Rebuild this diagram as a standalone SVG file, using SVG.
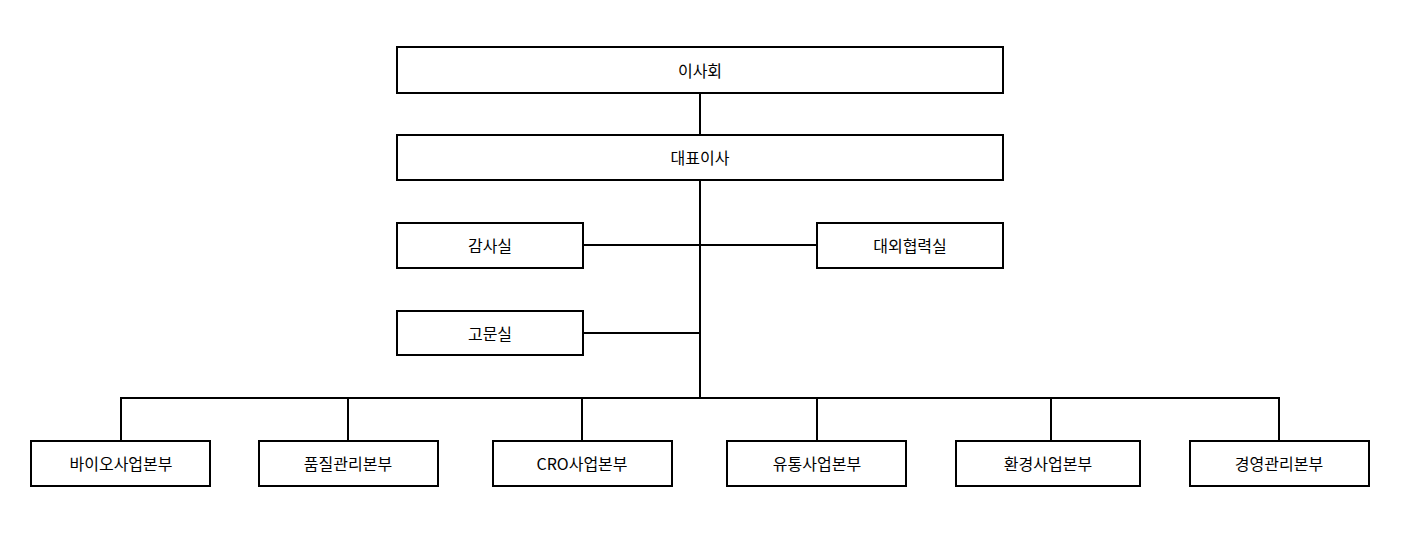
<svg xmlns="http://www.w3.org/2000/svg" width="1407" height="543" viewBox="0 0 1407 543">
<style>
rect{fill:#fff;stroke:#000;stroke-width:2}
line{stroke:#000;stroke-width:2}
text{font-family:"Noto Sans CJK KR","Noto Sans",sans-serif;font-size:16px;text-anchor:middle;dominant-baseline:central;fill:#000}
</style>
<rect width="1407" height="543" style="stroke:none"/>
<g id="connectors">
<line x1="700" y1="93" x2="700" y2="135"/>
<line x1="700" y1="180" x2="700" y2="398"/>
<line x1="583" y1="245" x2="817" y2="245"/>
<line x1="583" y1="333" x2="700" y2="333"/>
<line x1="120" y1="398" x2="1280" y2="398"/>
<line x1="121" y1="398" x2="121" y2="441"/>
<line x1="348" y1="398" x2="348" y2="441"/>
<line x1="582" y1="398" x2="582" y2="441"/>
<line x1="817" y1="398" x2="817" y2="441"/>
<line x1="1051" y1="398" x2="1051" y2="441"/>
<line x1="1279" y1="398" x2="1279" y2="441"/>
</g>
<g id="n1"><rect x="397" y="47" width="606" height="46"/><text x="700" y="70">이사회</text></g>
<g id="n2"><rect x="397" y="135" width="606" height="45"/><text x="700" y="157">대표이사</text></g>
<g id="n3"><rect x="397" y="223" width="186" height="45"/><text x="490" y="245">감사실</text></g>
<g id="n4"><rect x="817" y="223" width="186" height="45"/><text x="910" y="245">대외협력실</text></g>
<g id="n5"><rect x="397" y="311" width="186" height="44"/><text x="490" y="333">고문실</text></g>
<g id="n6"><rect x="31" y="441" width="179" height="45"/><text x="121" y="463">바이오사업본부</text></g>
<g id="n7"><rect x="259" y="441" width="179" height="45"/><text x="348" y="463">품질관리본부</text></g>
<g id="n8"><rect x="493" y="441" width="179" height="45"/><text x="582" y="463">CRO사업본부</text></g>
<g id="n9"><rect x="727" y="441" width="179" height="45"/><text x="817" y="463">유통사업본부</text></g>
<g id="n10"><rect x="956" y="441" width="184" height="45"/><text x="1048" y="463">환경사업본부</text></g>
<g id="n11"><rect x="1190" y="441" width="179" height="45"/><text x="1279" y="463">경영관리본부</text></g>
</svg>
